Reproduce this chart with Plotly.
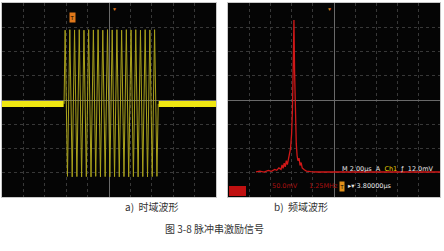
import plotly.graph_objects as go

W, H = 444, 251

# ---- time-domain data (divisions) ----
base_left_t = [-5.0, -4.0, -3.0, -2.12]
base_left_v = [-0.16, -0.15, -0.17, -0.16]
base_right_t = [2.32, 3.0, 4.0, 5.0]
base_right_v = [-0.16, -0.17, -0.15, -0.16]

burst_t = [-2.10, -2.05, -1.94, -1.83, -1.72, -1.61, -1.50, -1.39, -1.28, -1.17, -1.06,
           -0.95, -0.84, -0.73, -0.62, -0.51, -0.40, -0.29, -0.18, -0.07, 0.04,
           0.15, 0.26, 0.37, 0.48, 0.59, 0.70, 0.81, 0.92, 1.03, 1.14,
           1.25, 1.36, 1.47, 1.58, 1.69, 1.80, 1.91, 2.02, 2.13, 2.24, 2.30]
burst_v = [-0.16, 2.88, -3.15, 2.90, -3.17, 2.89, -3.16, 2.90, -3.17, 2.88, -3.16,
           2.90, -3.17, 2.89, -3.15, 2.90, -3.17, 2.88, -3.16, 2.90, -3.17,
           2.89, -3.16, 2.90, -3.17, 2.88, -3.16, 2.90, -3.17, 2.89, -3.16,
           2.90, -3.17, 2.88, -3.16, 2.90, -3.17, 2.89, -3.16, 2.90, -3.15, -0.16]

# ---- frequency-domain data (divisions) ----
spec_f = [-3.68, -3.5, -3.3, -3.1, -2.95, -2.8, -2.7, -2.6, -2.5, -2.45, -2.4, -2.35,
          -2.3, -2.25, -2.2, -2.15, -2.1, -2.05, -2.0, -1.96, -1.92, -1.89, -1.86,
          -1.82, -1.78, -1.74, -1.7, -1.65, -1.6, -1.55, -1.5, -1.4, -1.3, -1.1,
          -0.8, 0.0, 1.0, 2.0, 3.0, 4.0, 5.0]
spec_a = [-2.96, -2.93, -2.97, -2.90, -2.94, -2.86, -2.90, -2.80, -2.86, -2.68, -2.82, -2.60,
          -2.76, -2.50, -2.66, -2.40, -2.30, -2.00, -1.40, -0.40, 1.60, 3.30, 1.20,
          -0.80, -1.80, -2.30, -2.50, -2.40, -2.70, -2.58, -2.80, -2.88, -2.93, -2.95,
          -2.97, -2.97, -2.97, -2.97, -2.97, -2.97, -2.97]

fig = go.Figure()

fig.add_trace(go.Scatter(x=burst_t, y=burst_v, mode="lines",
                         line=dict(color="#aaa21c", width=1), xaxis="x", yaxis="y",
                         showlegend=False, hoverinfo="skip"))
for tt, vv in ((base_left_t, base_left_v), (base_right_t, base_right_v)):
    fig.add_trace(go.Scatter(x=tt, y=vv, mode="lines",
                             line=dict(color="#efe612", width=6), xaxis="x", yaxis="y",
                             showlegend=False, hoverinfo="skip"))

fig.add_trace(go.Scatter(x=spec_f, y=spec_a, mode="lines",
                         line=dict(color="#d01818", width=1.3), xaxis="x2", yaxis="y2",
                         showlegend=False, hoverinfo="skip"))

ax_common = dict(range=[-5, 5], dtick=1, showticklabels=False, ticks="",
                 showgrid=True, gridcolor="#383838", griddash="dot", gridwidth=1,
                 zeroline=True, zerolinecolor="#6a6a6a", zerolinewidth=1,
                 showline=True, linecolor="#c8c8c8", linewidth=1, mirror=True,
                 fixedrange=True)
ay_common = dict(ax_common, range=[-4, 4])

def px(x):
    return x / W

def py(y):
    return 1 - y / H

fig.update_layout(
    width=W, height=H, margin=dict(l=0, r=0, t=0, b=0),
    paper_bgcolor="white", plot_bgcolor="#050505",
    xaxis=dict(ax_common, domain=[px(2), px(216)], anchor="y"),
    yaxis=dict(ay_common, domain=[py(197), py(3)], anchor="x"),
    xaxis2=dict(ax_common, domain=[px(228), px(440)], anchor="y2"),
    yaxis2=dict(ay_common, domain=[py(197), py(3)], anchor="x2"),
)

# red box in the status line
fig.add_shape(type="rect", xref="paper", yref="paper",
              x0=px(229), x1=px(246), y0=py(196), y1=py(186),
              fillcolor="#c01010", line=dict(width=0))

nb = "\u00a0"
ann = [
    # left panel markers
    dict(x=px(69), y=py(12), text="T", font=dict(size=6, color="#000"),
         bgcolor="#e0781a", borderpad=0.5),
    dict(x=px(110), y=py(4), text="▼", font=dict(size=5, color="#e0781a")),
    dict(x=px(334), y=py(4), text="▼", font=dict(size=5, color="#e0781a")),
    # right panel status text
    dict(x=px(340), y=py(175), xanchor="left",
         text=f"M{nb}2.00μs{nb}{nb}A{nb}{nb}<span style='color:#e8d000'>Ch1</span>{nb}{nb}ƒ{nb}{nb}12.0mV",
         font=dict(size=6.5, color="#e8e8e8", family="DejaVu Sans")),
    dict(x=px(270), y=py(191.5), xanchor="left", text="50.0mV",
         font=dict(size=6.5, color="#a81010", family="DejaVu Sans")),
    dict(x=px(307), y=py(191.5), xanchor="left", text="1.25MHz",
         font=dict(size=6.5, color="#a81010", family="DejaVu Sans")),
    dict(x=px(339), y=py(191.5), xanchor="left", text="T",
         font=dict(size=5.5, color="#000"), bgcolor="#e0901a", borderpad=0.5),
    dict(x=px(346), y=py(191.5), xanchor="left", text=f"▸▾{nb}3.80000μs",
         font=dict(size=6.5, color="#e8e8e8", family="DejaVu Sans")),
    # captions
    dict(x=px(123), y=py(216), text=f"a){nb}{nb}时域波形",
         font=dict(size=10, color="#333", family="Noto Sans CJK SC")),
    dict(x=px(330), y=py(216), text=f"b){nb}{nb}频域波形",
         font=dict(size=10, color="#333", family="Noto Sans CJK SC")),
    dict(x=px(214), y=py(238), text=f"图{nb}3-8{nb}脉冲串激励信号",
         font=dict(size=10, color="#333", family="Noto Sans CJK SC")),
]
for a in ann:
    a.setdefault("xref", "paper")
    a.setdefault("yref", "paper")
    a.setdefault("showarrow", False)
    fig.add_annotation(**a)

fig.write_html("out.html")
